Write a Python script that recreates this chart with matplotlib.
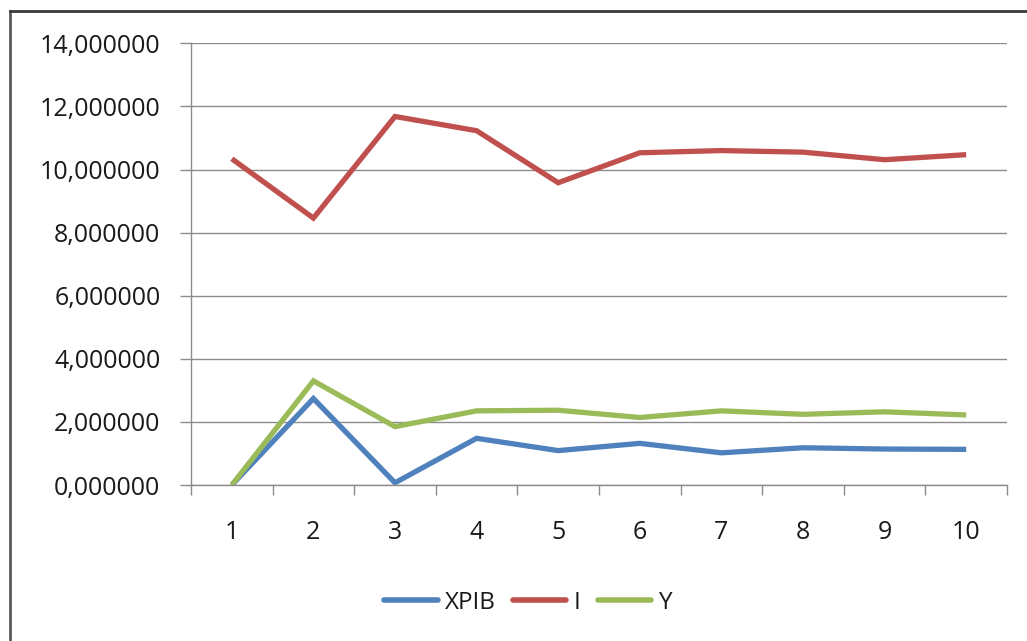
import matplotlib
matplotlib.use("Agg")
import matplotlib.pyplot as plt
from matplotlib.ticker import FixedLocator, FuncFormatter
from matplotlib.lines import Line2D

periods = [1, 2, 3, 4, 5, 6, 7, 8, 9, 10]
xpib = [0.00, 2.74, 0.07, 1.48, 1.09, 1.32, 1.02, 1.18, 1.14, 1.13]
inv = [10.34, 8.46, 11.68, 11.23, 9.58, 10.53, 10.60, 10.55, 10.31, 10.47]
y_vals = [0.00, 3.30, 1.85, 2.35, 2.37, 2.14, 2.35, 2.24, 2.32, 2.22]
series_names = ["XPIB", "I", "Y"]
y_ticks = [0, 2, 4, 6, 8, 10, 12, 14]

colors = ["#4F81BD", "#C0504D", "#9BBB59"]
grid_col = "#8C8C8C"

plt.rcParams["font.family"] = ["Open Sans", "DejaVu Sans"]

W, H = 1027, 641
fig = plt.figure(figsize=(W / 100, H / 100), dpi=100)
ax = fig.add_axes([191 / W, 1 - 485 / H, (1007 - 191) / W, (485 - 43.3) / H])

for vals, name, c in zip([xpib, inv, y_vals], series_names, colors):
    ax.plot(periods, vals, color=c, lw=3.8, label=name,
            solid_joinstyle="miter", solid_capstyle="butt")

ax.set_xlim(0.5, 10.5)
ax.set_ylim(0, 14)

ax.yaxis.set_major_locator(FixedLocator(y_ticks))
ax.yaxis.set_major_formatter(FuncFormatter(lambda v, p: f"{v:.6f}".replace(".", ",")))
ax.grid(axis="y", color=grid_col, lw=1.0)
ax.set_axisbelow(True)

ax.set_xticks(periods)
ax.set_xticklabels([str(p) for p in periods])
ax.set_xticks([p - 0.5 for p in periods] + [10.5], minor=True)
ax.tick_params(axis="x", which="major", length=0, pad=25, labelsize=18, labelcolor="#1a1a1a")
ax.tick_params(axis="x", which="minor", length=7, width=1, color=grid_col, direction="out")
ax.tick_params(axis="y", length=8, width=1, color=grid_col, direction="out",
               pad=14, labelsize=18, labelcolor="#1a1a1a")

for s in ["top", "right"]:
    ax.spines[s].set_visible(False)
for s in ["left", "bottom"]:
    ax.spines[s].set_color(grid_col)
    ax.spines[s].set_linewidth(1.0)

handles = [Line2D([0], [0], color=c, lw=4, solid_capstyle="round") for c in colors]
fig.legend(handles, series_names, loc="center",
           bbox_to_anchor=(528 / W, 1 - 603 / H), ncol=3, frameon=False,
           fontsize=17.5, handlelength=2.2, handletextpad=0.3, columnspacing=0.7,
           labelcolor="#1a1a1a")

# outer chart frame (left and top edges visible)
fig.add_artist(Line2D([9.5 / W, 9.5 / W], [0, 1 - 11 / H], transform=fig.transFigure,
                      color="#5a5a5a", lw=2))
fig.add_artist(Line2D([9.5 / W, 1], [1 - 11 / H, 1 - 11 / H], transform=fig.transFigure,
                      color="#3a3a3a", lw=2))

fig.savefig("out.png", dpi=100, facecolor="white")
